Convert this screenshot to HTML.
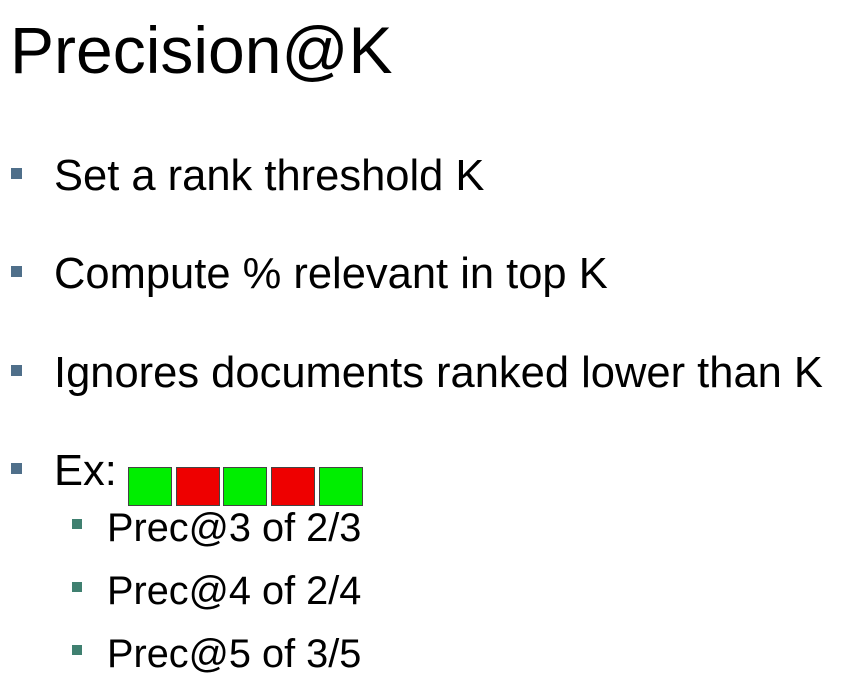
<!DOCTYPE html>
<html><head><meta charset="utf-8"><style>
body{margin:0;width:849px;height:692px;background:#fff;position:relative;overflow:hidden;font-family:"Liberation Sans",Arial,sans-serif;color:#000}
.t{position:absolute;line-height:1;white-space:nowrap}
.b{position:absolute;background:#4f6f8a}
.s{position:absolute;background:#3f8070}
.box{position:absolute;top:467px;width:42px;height:37px;border:1px solid #444}
.g{background:#00ee00}.r{background:#ee0000}
</style></head><body>
<div class="t" style="left:10px;top:17px;font-size:66px">Precision@K</div>
<div class="b" style="left:11px;top:168px;width:11px;height:11px"></div>
<div class="t" style="left:54px;top:155px;font-size:43.5px">Set a rank threshold K</div>
<div class="b" style="left:11px;top:266px;width:11px;height:11px"></div>
<div class="t" style="left:54px;top:253px;font-size:43.5px">Compute % relevant in top K</div>
<div class="b" style="left:11px;top:365px;width:11px;height:11px"></div>
<div class="t" style="left:54px;top:352px;font-size:43.5px">Ignores documents ranked lower than K</div>
<div class="b" style="left:11px;top:463px;width:11px;height:11px"></div>
<div class="t" style="left:54px;top:450px;font-size:43.5px">Ex:</div>
<div class="box g" style="left:128px"></div>
<div class="box r" style="left:176px"></div>
<div class="box g" style="left:223px"></div>
<div class="box r" style="left:271px"></div>
<div class="box g" style="left:319px"></div>
<div class="s" style="left:72px;top:519px;width:10px;height:10px"></div>
<div class="t" style="left:107px;top:509px;font-size:39.7px">Prec@3 of 2/3</div>
<div class="s" style="left:72px;top:582px;width:10px;height:10px"></div>
<div class="t" style="left:107px;top:572px;font-size:39.7px">Prec@4 of 2/4</div>
<div class="s" style="left:72px;top:645px;width:10px;height:10px"></div>
<div class="t" style="left:107px;top:635px;font-size:39.7px">Prec@5 of 3/5</div>
</body></html>
